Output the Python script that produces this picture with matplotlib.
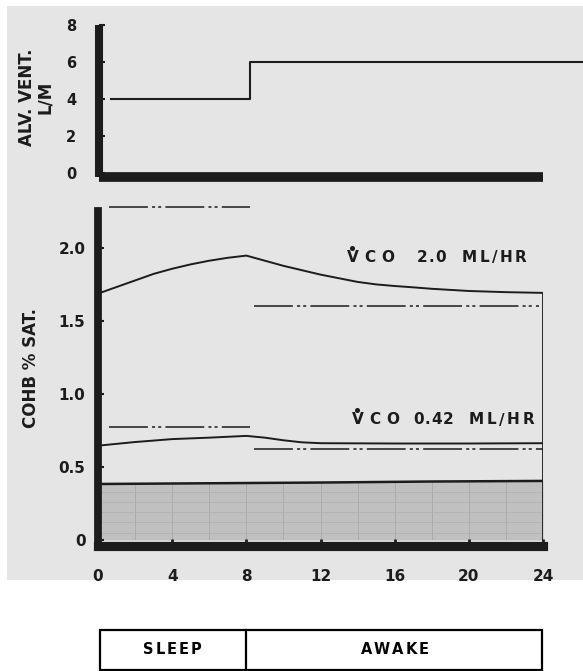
import matplotlib
matplotlib.use('Agg')
import matplotlib.pyplot as plt
from matplotlib.patches import Rectangle
from matplotlib.lines import Line2D
import numpy as np

plt.rcParams['font.family'] = ['DejaVu Sans']
plt.rcParams['lines.scale_dashes'] = False

W, H, DPI = 583, 671, 100

# ---------------- data ----------------
vent_hours = [0.7, 8.2, 26.5]
vent_lpm = [4, 6, 6]
vent_ticks = [0, 2, 4, 6, 8]

hour_ticks = [0, 4, 8, 12, 16, 20, 24]
hour_ticklabels = ['0', '4', '8', '12', '16', '20', '24']
cohb_ticks = [0, 0.5, 1.0, 1.5, 2.0]
cohb_ticklabels = ['0', '0.5', '1.0', '1.5', '2.0']

high_hours = [0, 1, 2, 3, 4, 5, 6, 7, 8, 9, 10, 11, 12, 13, 14, 15, 16, 17, 18, 20, 22, 24]
high_cohb = [1.685, 1.73, 1.775, 1.82, 1.855, 1.885, 1.91, 1.93, 1.945, 1.91, 1.875, 1.845,
             1.815, 1.79, 1.765, 1.748, 1.737, 1.728, 1.718, 1.703, 1.695, 1.69]

low_hours = [0, 2, 4, 6, 8, 9, 10, 11, 12, 16, 20, 24]
low_cohb = [0.645, 0.67, 0.69, 0.70, 0.712, 0.70, 0.682, 0.668, 0.662, 0.66, 0.66, 0.662]

base_hours = [0, 6, 12, 18, 24]
base_cohb = [0.383, 0.388, 0.393, 0.40, 0.404]

sleep_span = [0.6, 8.2]
awake_span_high = [8.4, 23.8]
awake_span_low = [8.4, 24.0]
steady_high = [2.28, 1.60]
steady_low = [0.77, 0.62]

phase_bounds = [0, 8, 24]
phase_labels = ['SLEEP', 'AWAKE']

label_high = ['VCO', '2.0', 'ML/HR']
label_low = ['VCO', '0.42', 'ML/HR']

# ---------------- styling ----------------
PAPER = '#e5e5e5'
INK = '#1c1c1c'
SHADE = '#c0c0c0'
DASH = (0, (28, 3, 2.2, 2.2, 2.2, 3))


def rect(l, t, r, b):
    return [l / W, 1 - b / H, (r - l) / W, (b - t) / H]


fig = plt.figure(figsize=(W / DPI, H / DPI), dpi=DPI, facecolor='white')
fig.add_artist(Rectangle((7 / W, 1 - 580 / H), (583 - 7) / W, (580 - 6) / H,
                         transform=fig.transFigure, facecolor=PAPER, edgecolor='none', zorder=-10))

# ---------------- top panel ----------------
axt = fig.add_axes(rect(98.5, 25, 543, 176.5))
axt.patch.set_visible(False)
axt.set_xlim(0, 24)
axt.set_ylim(-0.19, 8)
axt.step(vent_hours, vent_lpm, where='post', color=INK, lw=1.5, clip_on=False)
for s in ['top', 'right']:
    axt.spines[s].set_visible(False)
axt.spines['left'].set_linewidth(5.8)
axt.spines['bottom'].set_linewidth(7.0)
for s in ['left', 'bottom']:
    axt.spines[s].set_color(INK)
    axt.spines[s].set_capstyle('butt')
axt.set_xticks([])
axt.set_yticks(vent_ticks)
axt.set_yticklabels([str(v) for v in vent_ticks])
axt.tick_params(axis='y', direction='in', length=4, width=1.5, color=INK,
                pad=16, labelsize=10.5, labelcolor=INK)
for t in axt.get_yticklabels():
    t.set_fontweight('bold')

# ---------------- bottom panel ----------------
ax = fig.add_axes(rect(98, 211, 543, 545.5))
ax.patch.set_visible(False)
ax.set_xlim(0, 24)
ax.set_ylim(-0.0376, 2.25)

poly = ax.fill_between(base_hours, 0, base_cohb, color=SHADE, lw=0, zorder=1)
for hx in np.arange(0, 24.01, 2):
    ln = ax.axvline(hx, color='#a9a9a9', lw=0.6, zorder=1.5)
    ln.set_clip_path(poly.get_paths()[0], ax.transData)
for hy in np.arange(0.05, 0.4, 0.07):
    ln = ax.axhline(hy, color='#b0b0b0', lw=0.5, zorder=1.5)
    ln.set_clip_path(poly.get_paths()[0], ax.transData)
ax.plot(base_hours, base_cohb, color=INK, lw=1.8, zorder=3)

ax.plot(high_hours, high_cohb, color=INK, lw=1.4, zorder=3)
ax.plot(low_hours, low_cohb, color=INK, lw=1.4, zorder=3)
ax.plot([high_hours[-1], high_hours[-1]], [0, high_cohb[-1]], color=INK, lw=1.3, zorder=3)

ax.plot(sleep_span, [steady_high[0]] * 2, color=INK, lw=1.1, ls=DASH, clip_on=False)
ax.plot(awake_span_high, [steady_high[1]] * 2, color=INK, lw=1.1, ls=DASH)
ax.plot(sleep_span, [steady_low[0]] * 2, color=INK, lw=1.1, ls=DASH)
ax.plot(awake_span_low, [steady_low[1]] * 2, color=INK, lw=1.1, ls=DASH)

for s in ['top', 'right']:
    ax.spines[s].set_visible(False)
ax.spines['left'].set_linewidth(5.6)
ax.spines['bottom'].set_linewidth(6.6)
for s in ['left', 'bottom']:
    ax.spines[s].set_color(INK)
ax.set_xticks(hour_ticks)
ax.set_xticklabels(hour_ticklabels)
ax.set_yticks(cohb_ticks)
ax.set_yticklabels(cohb_ticklabels)
ax.tick_params(axis='x', direction='in', length=5, width=2, color=INK,
               pad=17, labelsize=11, labelcolor=INK)
ax.tick_params(axis='y', direction='in', length=4, width=1.5, color=INK,
               pad=9, labelsize=11, labelcolor=INK)
for t in ax.get_xticklabels() + ax.get_yticklabels():
    t.set_fontweight('bold')

# ---------------- axis labels ----------------
fig.text(27 / W, 1 - 97 / H, 'ALV. VENT.', rotation=90, ha='center', va='center',
         fontsize=12, fontweight='bold', color=INK)
fig.text(45 / W, 1 - 97 / H, 'L/M', rotation=90, ha='center', va='center',
         fontsize=12, fontweight='bold', color=INK)
fig.text(31 / W, 1 - 368 / H, 'COHB % SAT.', rotation=90, ha='center', va='center',
         fontsize=12, fontweight='bold', color=INK)

# ---------------- letter-spaced text ----------------
renderer = fig.canvas.get_renderer()


def tracked(x_px, y_px, s, size, track, ha='left', color=INK):
    texts, widths = [], []
    for ch in s:
        t = fig.text(0, 1 - y_px / H, ch, ha='left', va='center',
                     fontsize=size, fontweight='bold', color=color)
        texts.append(t)
        widths.append(t.get_window_extent(renderer=renderer).width)
    total = sum(widths) + track * (len(s) - 1)
    cur = x_px - (total / 2 if ha == 'center' else 0)
    for t, w in zip(texts, widths):
        t.set_x(cur / W)
        cur += w + track
    return cur


def vco_label(parts, y_px, xs):
    tracked(xs[0], y_px, parts[0], 11, 5.5)
    fig.add_artist(Line2D([(xs[0] + 5) / W], [1 - (y_px - 10.5) / H], marker='o', ms=2.6,
                          color=INK, transform=fig.transFigure, lw=0))
    tracked(xs[1], y_px, parts[1], 11, 0.8)
    tracked(xs[2], y_px, parts[2], 11, 2.5)


vco_label(label_high, 258, [347, 417, 462])
vco_label(label_low, 420, [352, 413, 469])

# ---------------- sleep / awake bar ----------------
axb = fig.add_axes(rect(98, 630, 543, 670))
axb.set_xlim(0, 24)
axb.set_ylim(0, 1)
axb.axis('off')
axb.add_patch(Rectangle((phase_bounds[0] + 0.1, 0), phase_bounds[-1] - phase_bounds[0] - 0.15, 1,
                        facecolor='white', edgecolor='black', lw=1.6, clip_on=False))
for b in phase_bounds[1:-1]:
    axb.plot([b, b], [0, 1], color='black', lw=1.6, clip_on=False)
for i, lab in enumerate(phase_labels):
    xc_data = (phase_bounds[i] + phase_bounds[i + 1]) / 2
    xc_px = axb.transData.transform((xc_data, 0))[0]
    tracked(xc_px, 650, lab, 10.5, 2.0, ha='center', color='black')

fig.savefig('out.png', dpi=DPI, facecolor='white')
